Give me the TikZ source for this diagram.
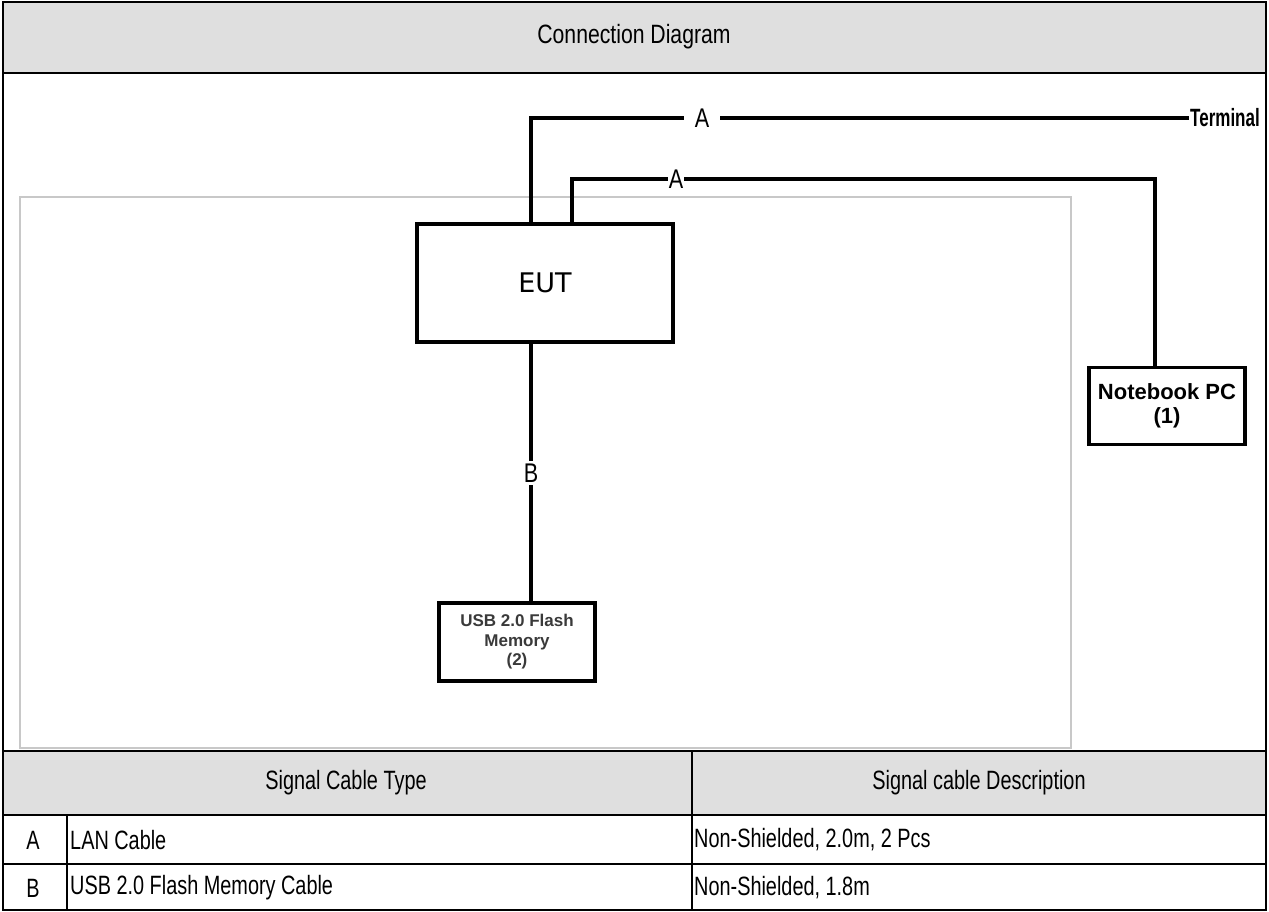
\documentclass[tikz,border=0pt]{standalone}
\usepackage{fontspec}
\setmainfont{Liberation Sans}
\newfontfamily\dvs{DejaVu Sans}
\newfontfamily\condtab[FakeStretch=0.75]{Liberation Sans}
\newfontfamily\condtitle[FakeStretch=0.8]{Liberation Sans}
\newfontfamily\condterm[FakeStretch=0.68]{Liberation Sans}
\definecolor{hdrgray}{HTML}{DFDFDF}
\definecolor{framegray}{HTML}{C8C8C8}
\definecolor{usbtext}{HTML}{3A3A3A}
\tikzset{
  frameline/.style={line width=2.6pt, black},
  wire/.style={line width=3.1pt, black},
  devbox/.style={draw, line width=3.1pt, fill=white, inner sep=0pt, align=center},
  tabtext/.style={font=\condtab\fontsize{26.5}{30}\selectfont, inner sep=0pt},
  cablelbl/.style={font=\condtitle\fontsize{27}{30}\selectfont, fill=white, inner sep=2pt},
}
\begin{document}
\begin{tikzpicture}[x=1pt,y=-1pt]
\useasboundingbox (0,0) rectangle (1269,912);
% header bands
\fill[hdrgray] (3,2) rectangle (1266,73);
\fill[hdrgray] (3,751) rectangle (1266,815);
% inner light frame
\draw[framegray, line width=1.2pt] (20,197) rectangle (1071,748);
% table/frame lines
\draw[frameline] (3,2) rectangle (1266,910);
\draw[frameline] (3,73) -- (1266,73);
\draw[frameline] (3,751) -- (1266,751);
\draw[frameline] (3,815) -- (1266,815);
\draw[frameline] (3,864) -- (1266,864);
\draw[frameline] (692,751) -- (692,910);
\draw[frameline] (67,815) -- (67,910);
% texts
\node[font=\condtitle\fontsize{26.5}{30}\selectfont, inner sep=0pt] (title) at (634,37) {Connection Diagram};
\node[tabtext] (h1) at (346,783) {Signal Cable Type};
\node[tabtext] (h2) at (979,783) {Signal cable Description};
\node[tabtext] (ra) at (33,840) {A};
\node[tabtext, anchor=west] (ra1) at (70,840) {LAN Cable};
\node[tabtext, anchor=west] (ra2) at (694,840) {Non-Shielded, 2.0m, 2 Pcs};
\node[tabtext] (rb) at (33,888) {B};
\node[tabtext, anchor=west] (rb1) at (70,888) {USB 2.0 Flash Memory Cable};
\node[tabtext, anchor=west] (rb2) at (694,888) {Non-Shielded, 1.8m};
% devices
\node[devbox, minimum width=256pt, minimum height=118pt, font=\dvs\fontsize{27}{31}\selectfont] (eut) at (545,283) {EUT};
\node[devbox, minimum width=156pt, minimum height=77pt, font=\bfseries\fontsize{22}{24}\selectfont] (nb) at (1167,406) {Notebook PC\\(1)};
\node[devbox, minimum width=156pt, minimum height=78pt, text=usbtext, font=\bfseries\fontsize{17}{19.5}\selectfont] (usb) at (517,642) {USB 2.0 Flash\\Memory\\(2)};
\node[font=\condterm\bfseries\fontsize{25}{29}\selectfont, anchor=west, inner sep=1pt] (term) at (1189,118) {Terminal};
\coordinate (c1) at (531,118);
\coordinate (c2) at (572,179);
\coordinate (c3) at (1155,179);
% connectors
\draw[wire] (eut.north -| c1) -- (c1) -- (term.west);
\node[cablelbl, inner xsep=11pt] (la1) at (702,118) {A};
\draw[wire] (eut.north -| c2) -- (c2) -- (c3) -- (nb.north -| c3);
\node[cablelbl, inner xsep=1pt, inner ysep=0pt] (la2) at (676,179) {A};
\draw[wire] (eut.south -| c1) -- (usb.north -| c1);
\node[cablelbl, inner sep=3pt] (lb) at (531,473) {B};
\end{tikzpicture}
\end{document}
